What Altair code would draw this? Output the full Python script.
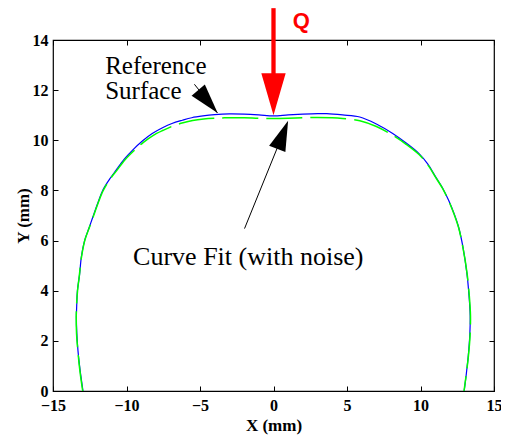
import altair as alt
import pandas as pd

# Reference surface (blue), traced from left bottom over the top to right bottom
blue_x = [-12.96, -13.15, -13.30, -13.38, -13.41, -13.38, -13.34, -13.20, -13.07, -12.85,
          -12.55, -12.29, -11.95, -11.62, -11.15, -10.72, -10.15, -9.60, -8.90, -8.25,
          -7.55, -6.91, -6.20, -5.56, -4.80, -4.00, -3.00, -2.00, -1.00, 0.00,
          1.00, 2.00, 3.00, 3.63, 4.70, 5.87, 7.00, 8.11, 9.00, 9.90,
          10.50, 11.03, 11.50, 11.92, 12.30, 12.59, 12.90, 13.16, 13.30, 13.38,
          13.35, 13.25, 13.12, 12.97]
blue_y = [0.00, 0.80, 1.60, 2.30, 2.95, 3.50, 4.00, 4.60, 5.35, 6.00,
          6.50, 6.94, 7.50, 8.00, 8.45, 8.80, 9.25, 9.60, 9.98, 10.27,
          10.50, 10.67, 10.80, 10.90, 10.97, 11.02, 11.05, 11.04, 11.01, 10.97,
          11.01, 11.04, 11.06, 11.06, 11.01, 10.93, 10.65, 10.27, 9.90, 9.47,
          9.05, 8.54, 8.10, 7.60, 7.05, 6.54, 5.70, 4.68, 3.80, 3.00,
          2.20, 1.40, 0.70, 0.00]

# Curve fit with noise (green dashed)
green_x = [-12.98, -13.17, -13.31, -13.40, -13.42, -13.39, -13.33, -13.21, -13.06, -12.84,
           -12.54, -12.27, -11.93, -11.58, -11.12, -10.68, -10.10, -9.55, -8.85, -8.20,
           -7.50, -6.85, -6.15, -5.50, -4.75, -4.00, -3.00, -2.00, -1.00, 0.00,
           1.00, 2.00, 3.00, 4.00, 4.70, 5.87, 7.00, 8.11, 9.00, 9.90,
           10.50, 11.03, 11.50, 11.92, 12.30, 12.59, 12.90, 13.17, 13.32, 13.40,
           13.37, 13.26, 13.12, 12.96]
green_y = [0.00, 0.80, 1.60, 2.30, 2.95, 3.50, 4.00, 4.60, 5.35, 6.00,
           6.50, 6.94, 7.50, 8.00, 8.45, 8.78, 9.22, 9.55, 9.92, 10.19,
           10.40, 10.57, 10.70, 10.79, 10.85, 10.88, 10.90, 10.90, 10.88, 10.87,
           10.88, 10.90, 10.91, 10.90, 10.87, 10.78, 10.55, 10.20, 9.85, 9.43,
           9.02, 8.52, 8.08, 7.58, 7.03, 6.52, 5.68, 4.68, 3.80, 3.00,
           2.20, 1.40, 0.70, 0.00]

x_ticks = [-15, -10, -5, 0, 5, 10, 15]
y_ticks = [0, 2, 4, 6, 8, 10, 12, 14]

# Annotation arrows (shafts)
shaft_x = [-5.381, -1.971, 0.0]
shaft_y = [12.234, 6.478, 15.27]
shaft_x2 = [-3.814, 0.605, 0.0]
shaft_y2 = [11.089, 10.20, 12.2]
shaft_color = ["#000000", "#000000", "#ff0000"]
shaft_width = [1.0, 1.0, 4.3]

# Arrow heads
head_x = [-4.460, 0.625, 0.0]
head_y = [11.544, 10.219, 11.835]
head_angle = [139.6, 21.2, 180.0]
head_size = [900, 900, 1764]
head_color = ["#000000", "#000000", "#ff0000"]

# Annotation texts
note_text = ["Reference", "Surface", "Curve Fit (with noise)"]
note_x = [-11.45, -11.45, -9.55]
note_y = [12.66, 11.66, 5.01]
note_size = [25, 25, 26]

q_text = ["Q"]
q_x = [1.90]
q_y = [14.47]

serif = "'Liberation Serif', 'Times New Roman', Times, serif"
xs = alt.Scale(domain=[-15, 15], nice=False, zero=False)
ys = alt.Scale(domain=[0, 14], nice=False, zero=False)

blue_df = pd.DataFrame({"x": blue_x, "y": blue_y, "i": list(range(len(blue_x)))})
green_df = pd.DataFrame({"x": green_x, "y": green_y, "i": list(range(len(green_x)))})
shaft_df = pd.DataFrame({"x": shaft_x, "y": shaft_y, "x2": shaft_x2, "y2": shaft_y2,
                         "c": shaft_color, "w": shaft_width})
head_df = pd.DataFrame({"x": head_x, "y": head_y, "a": head_angle, "s": head_size, "c": head_color})
note_df = pd.DataFrame({"x": note_x, "y": note_y, "t": note_text, "fs": note_size})
q_df = pd.DataFrame({"x": q_x, "y": q_y, "t": q_text})

axis_common = dict(labelFont=serif, labelFontWeight="bold", labelFontSize=16, labelColor="black",
                   titleFont=serif, titleFontWeight="bold", titleFontSize=17, titleColor="black",
                   tickColor="black", tickWidth=1, grid=False, domain=False, labelFlush=False)

blue = alt.Chart(blue_df).mark_line(color="#0000ff", strokeWidth=1.2, interpolate="catmull-rom").encode(
    x=alt.X("x:Q", scale=xs, axis=alt.Axis(orient="bottom", values=x_ticks, title="X (mm)",
                                           offset=-5, tickSize=5, labelPadding=6, titlePadding=4,
                                           **axis_common)),
    y=alt.Y("y:Q", scale=ys, axis=alt.Axis(orient="left", values=y_ticks, title="Y (mm)",
                                           offset=-5, tickSize=5, labelPadding=5, titlePadding=0,
                                           **axis_common)),
    order="i:Q",
)

green = alt.Chart(green_df).mark_line(color="#00ff00", strokeWidth=1.5, strokeDash=[36, 8],
                                      interpolate="catmull-rom").encode(
    x=alt.X("x:Q", scale=xs, axis=alt.Axis(orient="top", values=x_ticks, title=None, labels=False,
                                           offset=-5, tickSize=5, tickColor="black", grid=False, domain=False)),
    y=alt.Y("y:Q", scale=ys, axis=alt.Axis(orient="right", values=y_ticks, title=None, labels=False,
                                           offset=-5, tickSize=5, tickColor="black", grid=False, domain=False)),
    order="i:Q",
)

shafts = alt.Chart(shaft_df).mark_rule().encode(
    x=alt.X("x:Q", scale=xs, axis=None),
    y=alt.Y("y:Q", scale=ys, axis=None),
    x2="x2:Q", y2="y2:Q",
    color=alt.Color("c:N", scale=None),
    strokeWidth=alt.StrokeWidth("w:Q", scale=None),
)

heads = alt.Chart(head_df).mark_point(shape="M0,-1L0.58,1L-0.58,1Z", filled=True, opacity=1,
                                      strokeWidth=0).encode(
    x=alt.X("x:Q", scale=xs, axis=None),
    y=alt.Y("y:Q", scale=ys, axis=None),
    angle=alt.Angle("a:Q", scale=None),
    size=alt.Size("s:Q", scale=None),
    color=alt.Color("c:N", scale=None),
)

notes = alt.Chart(note_df).mark_text(align="left", baseline="alphabetic", font=serif,
                                     color="black").encode(
    x=alt.X("x:Q", scale=xs, axis=None),
    y=alt.Y("y:Q", scale=ys, axis=None),
    text="t:N",
    size=alt.Size("fs:Q", scale=None),
)

qlabel = alt.Chart(q_df).mark_text(align="center", baseline="alphabetic", font="'Liberation Sans', Arial, sans-serif",
                                   fontWeight="bold", fontSize=22, color="#ff0000").encode(
    x=alt.X("x:Q", scale=xs, axis=None),
    y=alt.Y("y:Q", scale=ys, axis=None),
    text="t:N",
)

chart = alt.layer(blue, green, shafts, heads, notes, qlabel).resolve_axis(
    x="independent", y="independent"
).properties(
    width=441, height=351,
    padding={"left": 45, "top": 32, "right": 7, "bottom": 45},
    autosize=alt.AutoSizeParams(type="none"),
    background="white",
).configure_view(stroke="black", strokeWidth=1.2)

chart.save("out.html", embed_options={"renderer": "svg", "actions": False})
